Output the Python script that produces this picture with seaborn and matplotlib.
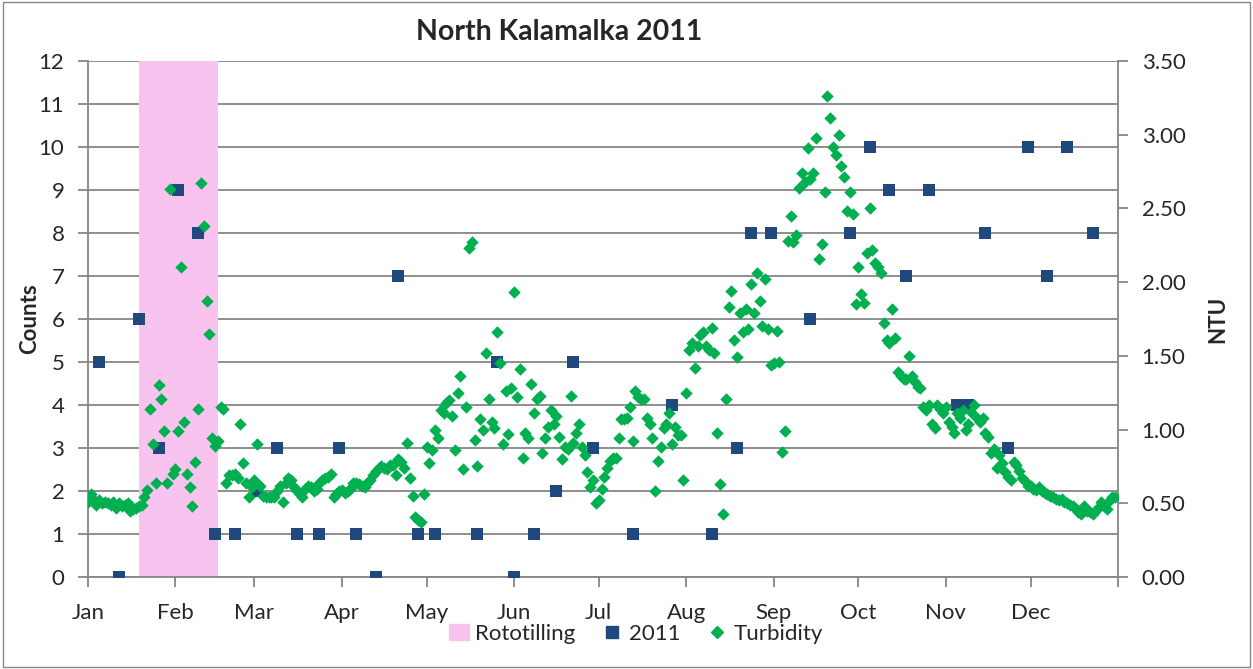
import matplotlib
matplotlib.use("Agg")
import matplotlib.pyplot as plt
import seaborn as sns
import pandas as pd
from matplotlib.patches import Patch, Rectangle
from matplotlib.lines import Line2D

# month ticks (day offset from Jan 1)
month_labels = ["Jan", "Feb", "Mar", "Apr", "May", "Jun", "Jul", "Aug", "Sep", "Oct", "Nov", "Dec"]
month_starts = [0, 31, 59, 90, 120, 151, 181, 212, 243, 273, 304, 334]

# rototilling period (day offsets)
roto_start = 18
roto_end = 46

# weekly counts (2011)
count_days = [4, 11, 18, 25, 32, 39, 45, 52, 60, 67, 74, 82, 89, 95, 102, 110, 117, 123,
              138, 145, 151, 158, 166, 172, 179, 193, 207, 221, 230, 235, 242, 256, 270,
              277, 284, 290, 298, 308, 312, 318, 326, 333, 340, 347, 356]
count_values = [5, 0, 6, 3, 9, 8, 1, 1, 2, 3, 1, 1, 3, 1, 0, 7, 1, 1,
                1, 5, 0, 1, 2, 5, 3, 1, 4, 1, 3, 8, 8, 6, 8,
                10, 9, 7, 9, 4, 4, 8, 3, 10, 7, 10, 8]

# daily turbidity (NTU), one list per month
turb_jan = [0.51, 0.56, 0.52, 0.49, 0.52, 0.50, 0.51, 0.50, 0.49, 0.51, 0.47, 0.50, 0.48, 0.49, 0.50,
            0.45, 0.46, 0.47, 0.48, 0.49, 0.54, 0.59, 1.14, 0.90, 0.64, 1.30, 1.21, 0.99, 0.64, 2.63, 0.70]
turb_feb = [0.73, 0.99, 2.10, 1.05, 0.70, 0.61, 0.48, 0.78, 1.14, 2.67, 2.38, 1.87, 1.65, 0.94,
            0.89, 0.92, 1.15, 1.14, 0.64, 0.69, 0.69, 0.70, 0.67, 1.04, 0.77, 0.64, 0.54, 0.61]
turb_mar = [0.66, 0.90, 0.62, 0.55, 0.54, 0.54, 0.54, 0.54, 0.58, 0.62, 0.51, 0.64, 0.67, 0.66, 0.61,
            0.58, 0.56, 0.54, 0.60, 0.62, 0.61, 0.58, 0.60, 0.64, 0.66, 0.67, 0.68, 0.70, 0.54, 0.56, 0.58]
turb_apr = [0.59, 0.57, 0.58, 0.60, 0.64, 0.64, 0.63, 0.62, 0.61, 0.64, 0.66, 0.69, 0.72, 0.74, 0.75,
            0.74, 0.73, 0.76, 0.76, 0.69, 0.80, 0.78, 0.74, 0.91, 0.67, 0.55, 0.41, 0.39, 0.37, 0.56]
turb_may = [0.88, 0.77, 0.86, 1.00, 0.94, 1.13, 1.11, 1.18, 1.20, 1.09, 0.86, 1.25, 1.36, 0.73, 1.15,
            2.23, 2.27, 0.93, 0.75, 1.07, 1.00, 1.52, 1.21, 1.05, 1.01, 1.66, 1.45, 0.90, 1.26, 0.97, 1.28]
turb_jun = [1.93, 1.22, 1.41, 0.81, 0.98, 0.94, 1.31, 1.11, 1.21, 1.23, 0.84, 0.94, 1.02, 1.13, 1.04,
            1.09, 0.95, 0.80, 0.88, 0.87, 1.23, 0.91, 0.98, 1.04, 0.88, 0.83, 0.71, 0.61, 0.66, 0.50]
turb_jul = [0.52, 0.60, 0.68, 0.74, 0.79, 0.81, 0.81, 0.94, 1.07, 1.07, 1.08, 1.15, 0.92, 1.26, 1.22,
            1.21, 1.21, 1.08, 1.04, 0.94, 0.58, 0.79, 0.88, 1.01, 1.04, 1.11, 0.90, 1.02, 0.96, 0.96, 0.66]
turb_aug = [1.25, 1.54, 1.59, 1.42, 1.57, 1.64, 1.66, 1.57, 1.54, 1.69, 1.52, 0.98, 0.63, 0.43, 1.21,
            1.83, 1.94, 1.61, 1.49, 1.79, 1.66, 1.82, 1.68, 1.99, 1.79, 2.06, 1.87, 1.70, 2.02, 1.68, 1.44]
turb_sep = [1.45, 1.67, 1.46, 0.85, 0.99, 2.28, 2.45, 2.27, 2.32, 2.64, 2.74, 2.68, 2.91, 2.70, 2.74,
            2.98, 2.16, 2.26, 2.61, 3.26, 3.11, 2.92, 2.86, 3.00, 2.79, 2.71, 2.48, 2.61, 2.46, 1.85]
turb_oct = [2.10, 1.92, 1.86, 2.20, 2.50, 2.22, 2.13, 2.10, 2.06, 1.72, 1.61, 1.59, 1.82, 1.62, 1.39,
            1.36, 1.34, 1.34, 1.50, 1.36, 1.32, 1.29, 1.28, 1.15, 1.13, 1.17, 1.04, 1.01, 1.17, 1.14, 1.11]
turb_nov = [1.15, 1.05, 1.02, 0.98, 1.11, 1.08, 1.13, 1.00, 1.04, 1.12, 1.17, 1.08, 1.05, 1.08, 0.98,
            0.95, 0.84, 0.87, 0.74, 0.83, 0.77, 0.71, 0.68, 0.66, 0.78, 0.76, 0.72, 0.67, 0.65, 0.62]
turb_dec = [0.62, 0.60, 0.59, 0.61, 0.58, 0.57, 0.56, 0.55, 0.54, 0.53, 0.52, 0.53, 0.51, 0.50, 0.49,
            0.48, 0.46, 0.44, 0.43, 0.48, 0.45, 0.44, 0.43, 0.45, 0.47, 0.51, 0.48, 0.46, 0.52, 0.54, 0.54]

turbidity = (turb_jan + turb_feb + turb_mar + turb_apr + turb_may + turb_jun +
             turb_jul + turb_aug + turb_sep + turb_oct + turb_nov + turb_dec)

counts_df = pd.DataFrame({"day": count_days, "count": count_values})
turb_df = pd.DataFrame({"day": range(len(turbidity)), "ntu": turbidity})

sns.set_style("white")
plt.rcParams["font.family"] = ["Lato", "DejaVu Sans"]

grid_col = "#868686"
navy = "#1F497D"
green = "#00B050"
pink = "#F9C3EF"

fig = plt.figure(figsize=(12.53, 6.69), dpi=100)
ax = fig.add_axes([88 / 1253, 1 - 577 / 669, 1030 / 1253, 516 / 669])

# rototilling band
ax.axvspan(roto_start, roto_end, color=pink, zorder=1, lw=0)

# gridlines
for v in range(0, 13):
    ax.axhline(v, color=grid_col, lw=1.3, zorder=0.5)

sns.scatterplot(data=counts_df, x="day", y="count", ax=ax, marker="s", s=85,
                color=navy, edgecolor=navy, linewidth=0, zorder=3, legend=False)

ax.set_xlim(0, 365)
ax.set_ylim(0, 12)
ax.set_yticks(range(0, 13))
ax.set_xticks(month_starts + [365])
ax.set_xticklabels(month_labels + [""])
ax.set_xlabel("")
ax.set_ylabel("Counts", fontsize=16, fontweight="bold")
ax.yaxis.set_label_coords(-0.046, 0.5)
ax.tick_params(axis="y", which="both", direction="out", length=7, width=1.3,
               color=grid_col, labelsize=16, pad=10, left=True)
ax.tick_params(axis="x", direction="out", length=7, width=1.3, color=grid_col,
               labelsize=16, pad=12, bottom=True)

for side in ["top", "right"]:
    ax.spines[side].set_visible(False)
ax.spines["left"].set_color(grid_col)
ax.spines["left"].set_linewidth(1.3)
ax.spines["bottom"].set_color(grid_col)
ax.spines["bottom"].set_linewidth(1.3)

ax2 = ax.twinx()
sns.scatterplot(data=turb_df, x="day", y="ntu", ax=ax2, marker="D", s=40,
                color=green, edgecolor=green, linewidth=0, zorder=4, legend=False)
ax2.set_ylim(0, 3.5)
ax2.set_xlim(0, 365)
ax2.set_yticks([0, 0.5, 1.0, 1.5, 2.0, 2.5, 3.0, 3.5])
ax2.set_yticklabels([f"{v:.2f}" for v in [0, 0.5, 1.0, 1.5, 2.0, 2.5, 3.0, 3.5]])
ax2.set_ylabel("NTU", fontsize=16, fontweight="bold", rotation=90)
ax2.yaxis.set_label_coords(1.087, 0.5)
ax2.tick_params(axis="y", direction="out", length=7, width=1.3, color=grid_col,
                labelsize=16, pad=10, right=True)
ax2.grid(False)
for side in ["top", "left", "bottom"]:
    ax2.spines[side].set_visible(False)
ax2.spines["right"].set_color(grid_col)
ax2.spines["right"].set_linewidth(1.3)

fig.text(559 / 1253, 1 - 32 / 669, "North Kalamalka 2011", ha="center", va="center",
         fontsize=20.5, fontweight="bold")

handles = [
    Patch(facecolor=pink, edgecolor=pink, label="Rototilling"),
    Line2D([], [], marker="s", color=navy, linestyle="none", markersize=9, label="2011"),
    Line2D([], [], marker="D", color=green, linestyle="none", markersize=6, label="Turbidity"),
]
fig.legend(handles=handles, loc="center", bbox_to_anchor=(636 / 1253, 1 - 634 / 669),
           ncol=3, frameon=False, fontsize=16, handlelength=0.9, handletextpad=0.3,
           columnspacing=1.2, borderpad=0)

# chart area border
fig.patches.append(Rectangle((0.002, 0.003), 0.996, 0.994, transform=fig.transFigure,
                             fill=False, edgecolor=grid_col, lw=1))

fig.savefig("out.png", dpi=100)
